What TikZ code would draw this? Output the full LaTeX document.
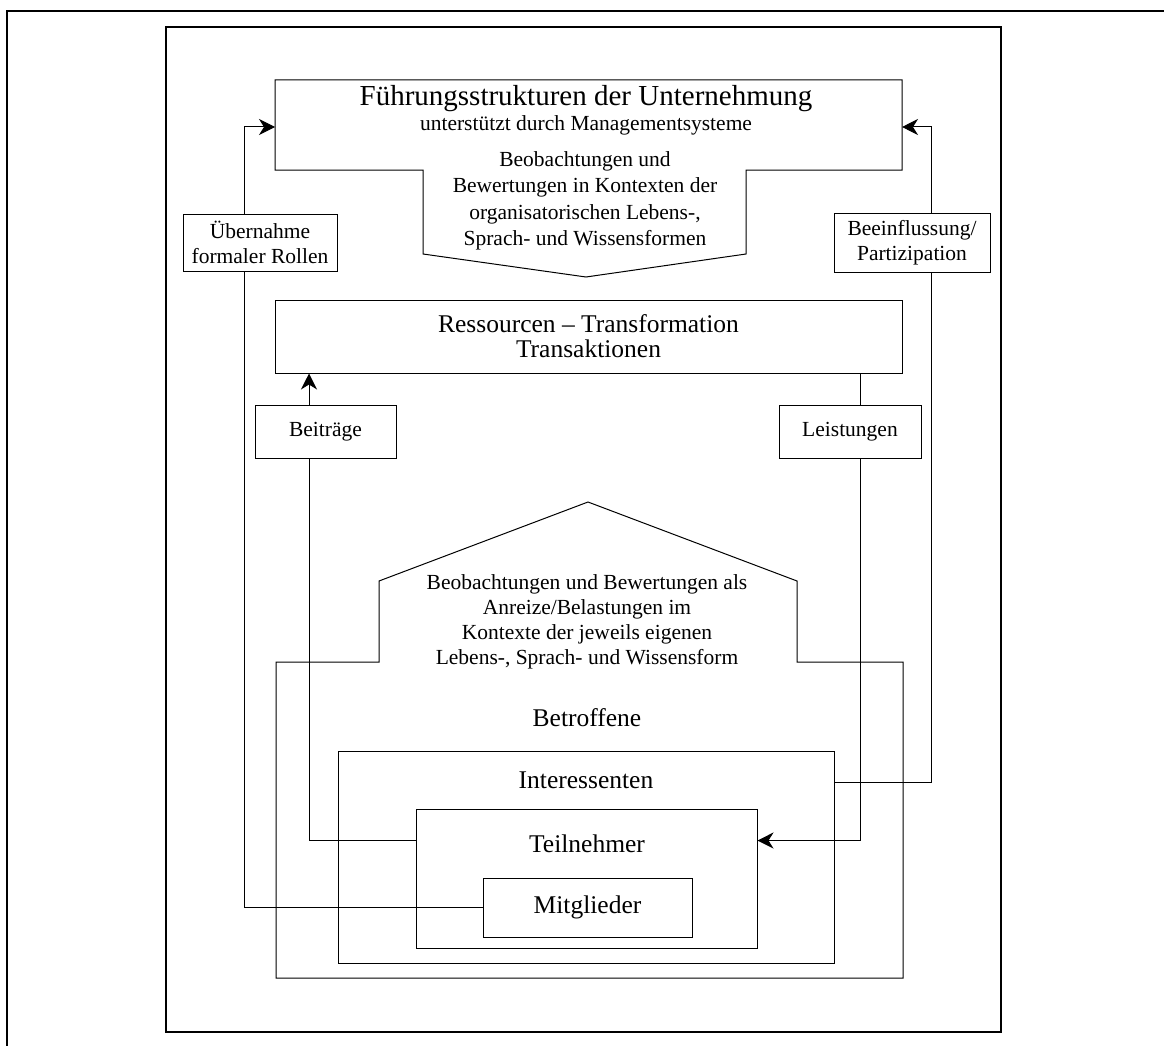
\documentclass[tikz,border=0pt]{standalone}
\usepackage{fontspec}
\setmainfont{Liberation Serif}
\usetikzlibrary{arrows.meta}
\newcommand\bodyfont{\fontsize{21.5}{25}\selectfont}
\newcommand\upperfont{\fontsize{21.5}{26.5}\selectfont}
\newcommand\headfont{\fontsize{25.5}{25}\selectfont}
\newcommand\titlefont{\fontsize{29}{30}\selectfont}
\tikzset{
  frame/.style={line width=1.9pt},
  line/.style={line width=1pt},
  box/.style={draw, line width=1pt, inner sep=0pt, align=center, font=\bodyfont},
  arr/.style={-{Stealth[length=16pt,width=16pt,inset=5pt]}},
  txt/.style={inner sep=0pt, align=center, font=\bodyfont},
}
\begin{document}
\begin{tikzpicture}[x=1pt,y=-1pt]
\useasboundingbox (0,0) rectangle (1164,1046);

% outer and inner frames
\draw[frame] (1164,11) -- (7,11) -- (7,1046);
\draw[frame] (166,27) rectangle (1001,1032);

% management structures: box with a downward-pointing arrow
\draw[line] (275,80) -- (902,80) -- (902,170) -- (746,170) -- (746,254)
  -- (586,277) -- (423,254) -- (423,170) -- (275,170) -- cycle;
\coordinate (fIn) at (275,127);
\coordinate (fIn2) at (902,127);
\node[txt, font=\titlefont, anchor=base] (ftitle) at (586,106) {Führungsstrukturen der Unternehmung};
\node[txt, anchor=base] (fsub) at (586,131) {unterstützt durch Managementsysteme};
\node[txt, font=\upperfont, anchor=north] (fobs) at (585,151.3)
  {Beobachtungen und\\Bewertungen in Kontexten der\\organisatorischen Lebens-,\\Sprach- und Wissensformen};

% side boxes
\node[box, minimum width=154pt, minimum height=57pt] (ueb) at (260,242.5) {Übernahme\\formaler Rollen};
\node[box, minimum width=156pt, minimum height=59pt] (bee) at (912,242.5) {Beeinflussung/\\Partizipation};

% resources
\node[box, font=\headfont, minimum width=627pt, minimum height=73pt] (res) at (588.5,336.5)
  {Ressourcen – Transformation\\Transaktionen};
\node[box, minimum width=141pt, minimum height=53pt] (bei) at (325.5,431.5) {Beiträge};
\node[box, minimum width=142pt, minimum height=53pt] (lei) at (850,431.5) {Leistungen};

% affected parties: house-shaped outline
\draw[line] (276,978) -- (276,662) -- (379,662) -- (379,581) -- (588,502)
  -- (797,581) -- (797,662) -- (903,662) -- (903,978) -- cycle;
\node[txt, anchor=north] (hobs) at (587,574.3)
  {Beobachtungen und Bewertungen als\\Anreize/Belastungen im\\Kontexte der jeweils eigenen\\Lebens-, Sprach- und Wissensform};
\node[txt, font=\headfont, anchor=base] (betr) at (587,726) {Betroffene};

% nested groups
\node[draw, line, minimum width=496pt, minimum height=212pt] (int) at (586,857) {};
\node[txt, font=\headfont, anchor=base] (intl) at (586,788) {Interessenten};
\node[draw, line, minimum width=341pt, minimum height=139pt] (teil) at (586.5,878.5) {};
\node[txt, font=\headfont, anchor=base] (teill) at (587,852) {Teilnehmer};
\node[box, font=\headfont, minimum width=209pt, minimum height=59pt] (mit) at (587.5,907.5) {Mitglieder};

% return lines
\coordinate (ux) at (244,0);
\coordinate (bx) at (931,0);
\coordinate (cx) at (309,0);
\coordinate (lx) at (860,0);

\draw[line] (mit.west) -| (ueb.south -| ux);
\draw[line, arr] (ueb.north -| ux) |- (fIn);

\draw[line] ([yshift=-32pt]int.north east) -| (bee.south -| bx);
\draw[line, arr] (bee.north -| bx) |- (fIn2);

\draw[line] ([yshift=-32pt]teil.north west) -| (bei.south -| cx);
\draw[line, arr] (bei.north -| cx) -- (res.south -| cx);

\draw[line] (res.south -| lx) -- (lei.north -| lx);
\draw[line, arr] (lei.south -| lx) |- ([yshift=-32pt]teil.north east);
\end{tikzpicture}
\end{document}
